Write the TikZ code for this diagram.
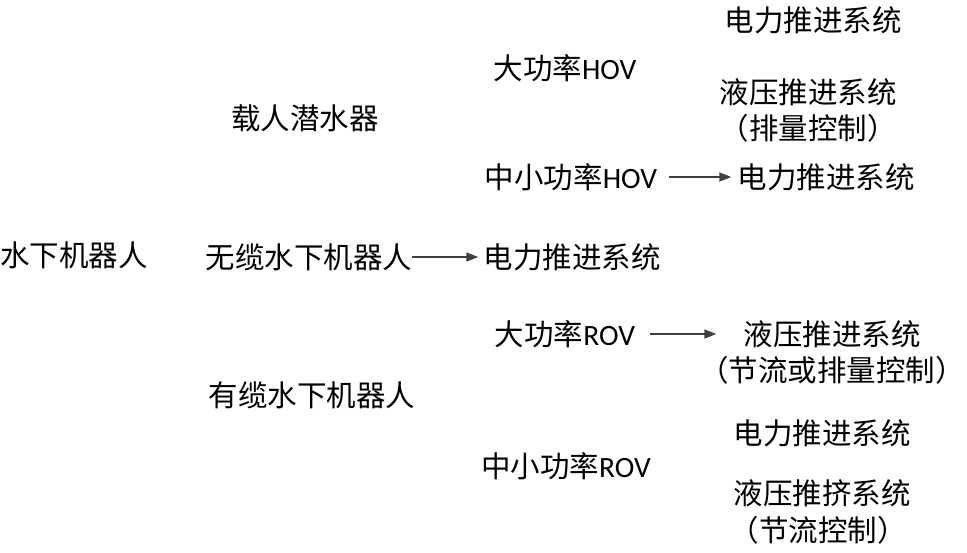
\documentclass[tikz,border=0pt]{standalone}
\usepackage{fontspec}
\newfontfamily\cjk{Noto Sans CJK SC}
\newfontfamily\carl{Carlito}
\usetikzlibrary{arrows.meta}
\definecolor{arrowgray}{HTML}{404040}
\tikzset{
  lbl/.style={inner sep=0pt, anchor=center, font=\cjk\fontsize{29.5}{34}\selectfont, text=black},
  conn/.style={draw=arrowgray, line width=1.5pt, -{Triangle[length=12pt,width=9pt]}, arrowgray}
}
\begin{document}
\begin{tikzpicture}[x=1pt,y=-1pt]
\useasboundingbox (0,0) rectangle (967,552);
\node[lbl] (root) at (74,255) {水下机器人};
\node[lbl] (hov) at (305,118) {载人潜水器};
\node[lbl] (auv) at (309,257) {无缆水下机器人};
\node[lbl] (auvp) at (572,257) {电力推进系统};
\node[lbl] (rov) at (312,395) {有缆水下机器人};
\node[lbl] (bhov) at (565,68) {大功率{\carl HOV}};
\node[lbl] (shov) at (571,177) {中小功率{\carl HOV}};
\node[lbl] (bhe) at (813,20) {电力推进系统};
\node[lbl] (bhh) at (808,92) {液压推进系统};
\node[lbl] (bhh2) at (808,128) {（排量控制）};
\node[lbl] (she) at (826,177) {电力推进系统};
\node[lbl] (brov) at (565,334) {大功率{\carl ROV}};
\node[lbl] (brh) at (832,334) {液压推进系统};
\node[lbl] (brh2) at (832,370) {（节流或排量控制）};
\node[lbl] (sre) at (822,433) {电力推进系统};
\node[lbl] (srov) at (566,466) {中小功率{\carl ROV}};
\node[lbl] (srh) at (822,493) {液压推挤系统};
\node[lbl] (srh2) at (818,530) {（节流控制）};
\draw[conn, shorten >=5pt] (auv) -- (auvp);
\draw[conn, shorten <=12pt, shorten >=6pt] (shov) -- (she);
\draw[conn, shorten <=15pt, shorten >=27pt] (brov) -- (brh);
\end{tikzpicture}
\end{document}
